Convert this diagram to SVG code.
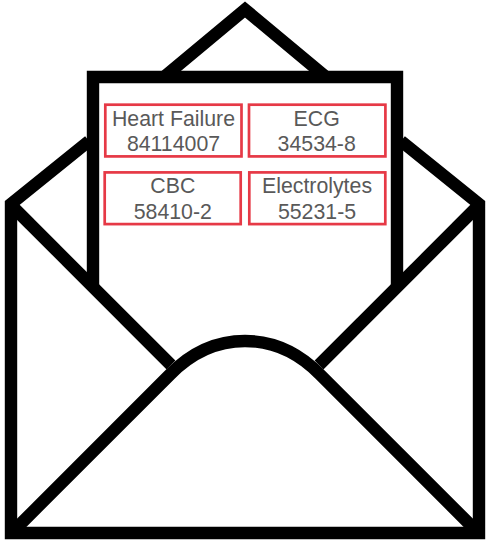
<svg xmlns="http://www.w3.org/2000/svg" width="487" height="541" viewBox="0 0 487 541">
<style>
.ln{fill:none;stroke:#000;stroke-width:12.4;stroke-linejoin:miter;stroke-miterlimit:10}
.box{fill:#fff;stroke:#e63946;stroke-width:2.7}
.t{font-family:"Liberation Sans",Arial,sans-serif;font-size:21.3px;fill:#595959;text-anchor:middle}
</style>
<rect width="487" height="541" fill="#fff"/>
<g id="envelope">
<path class="ln" d="M164,77 L245,9.500 L326,77"/>
<path class="ln" d="M93,285 V77 H397 V285"/>
<path class="ln" d="M89,141 L11,204 V533 H479 V204 L401,141"/>
<path class="ln" d="M13,207 L171,365"/>
<path class="ln" d="M477,207 L319,365"/>
<path class="ln" d="M11,533.500 L170,374.500 C195,349 220,341 245,341 C270,341 295,349 320,374.500 L479,533.500"/>
</g>
<g id="node-heart-failure">
<rect class="box" x="105.300" y="104.700" width="136.200" height="51.700"/>
<text class="t" x="173.500" y="125.700">Heart Failure</text>
<text class="t" x="173.500" y="151.300">84114007</text>
</g>
<g id="node-ecg">
<rect class="box" x="249" y="104.700" width="136.400" height="51.700"/>
<text class="t" x="316.700" y="125.700">ECG</text>
<text class="t" x="316.700" y="151.300">34534-8</text>
</g>
<g id="node-cbc">
<rect class="box" x="104.700" y="172.400" width="136" height="51.700"/>
<text class="t" x="172.800" y="193">CBC</text>
<text class="t" x="172.800" y="219.300">58410-2</text>
</g>
<g id="node-electrolytes">
<rect class="box" x="249.300" y="172.400" width="136" height="51.700"/>
<text class="t" x="317" y="193">Electrolytes</text>
<text class="t" x="317" y="219.300">55231-5</text>
</g>
<g id="connectors"/>
</svg>
